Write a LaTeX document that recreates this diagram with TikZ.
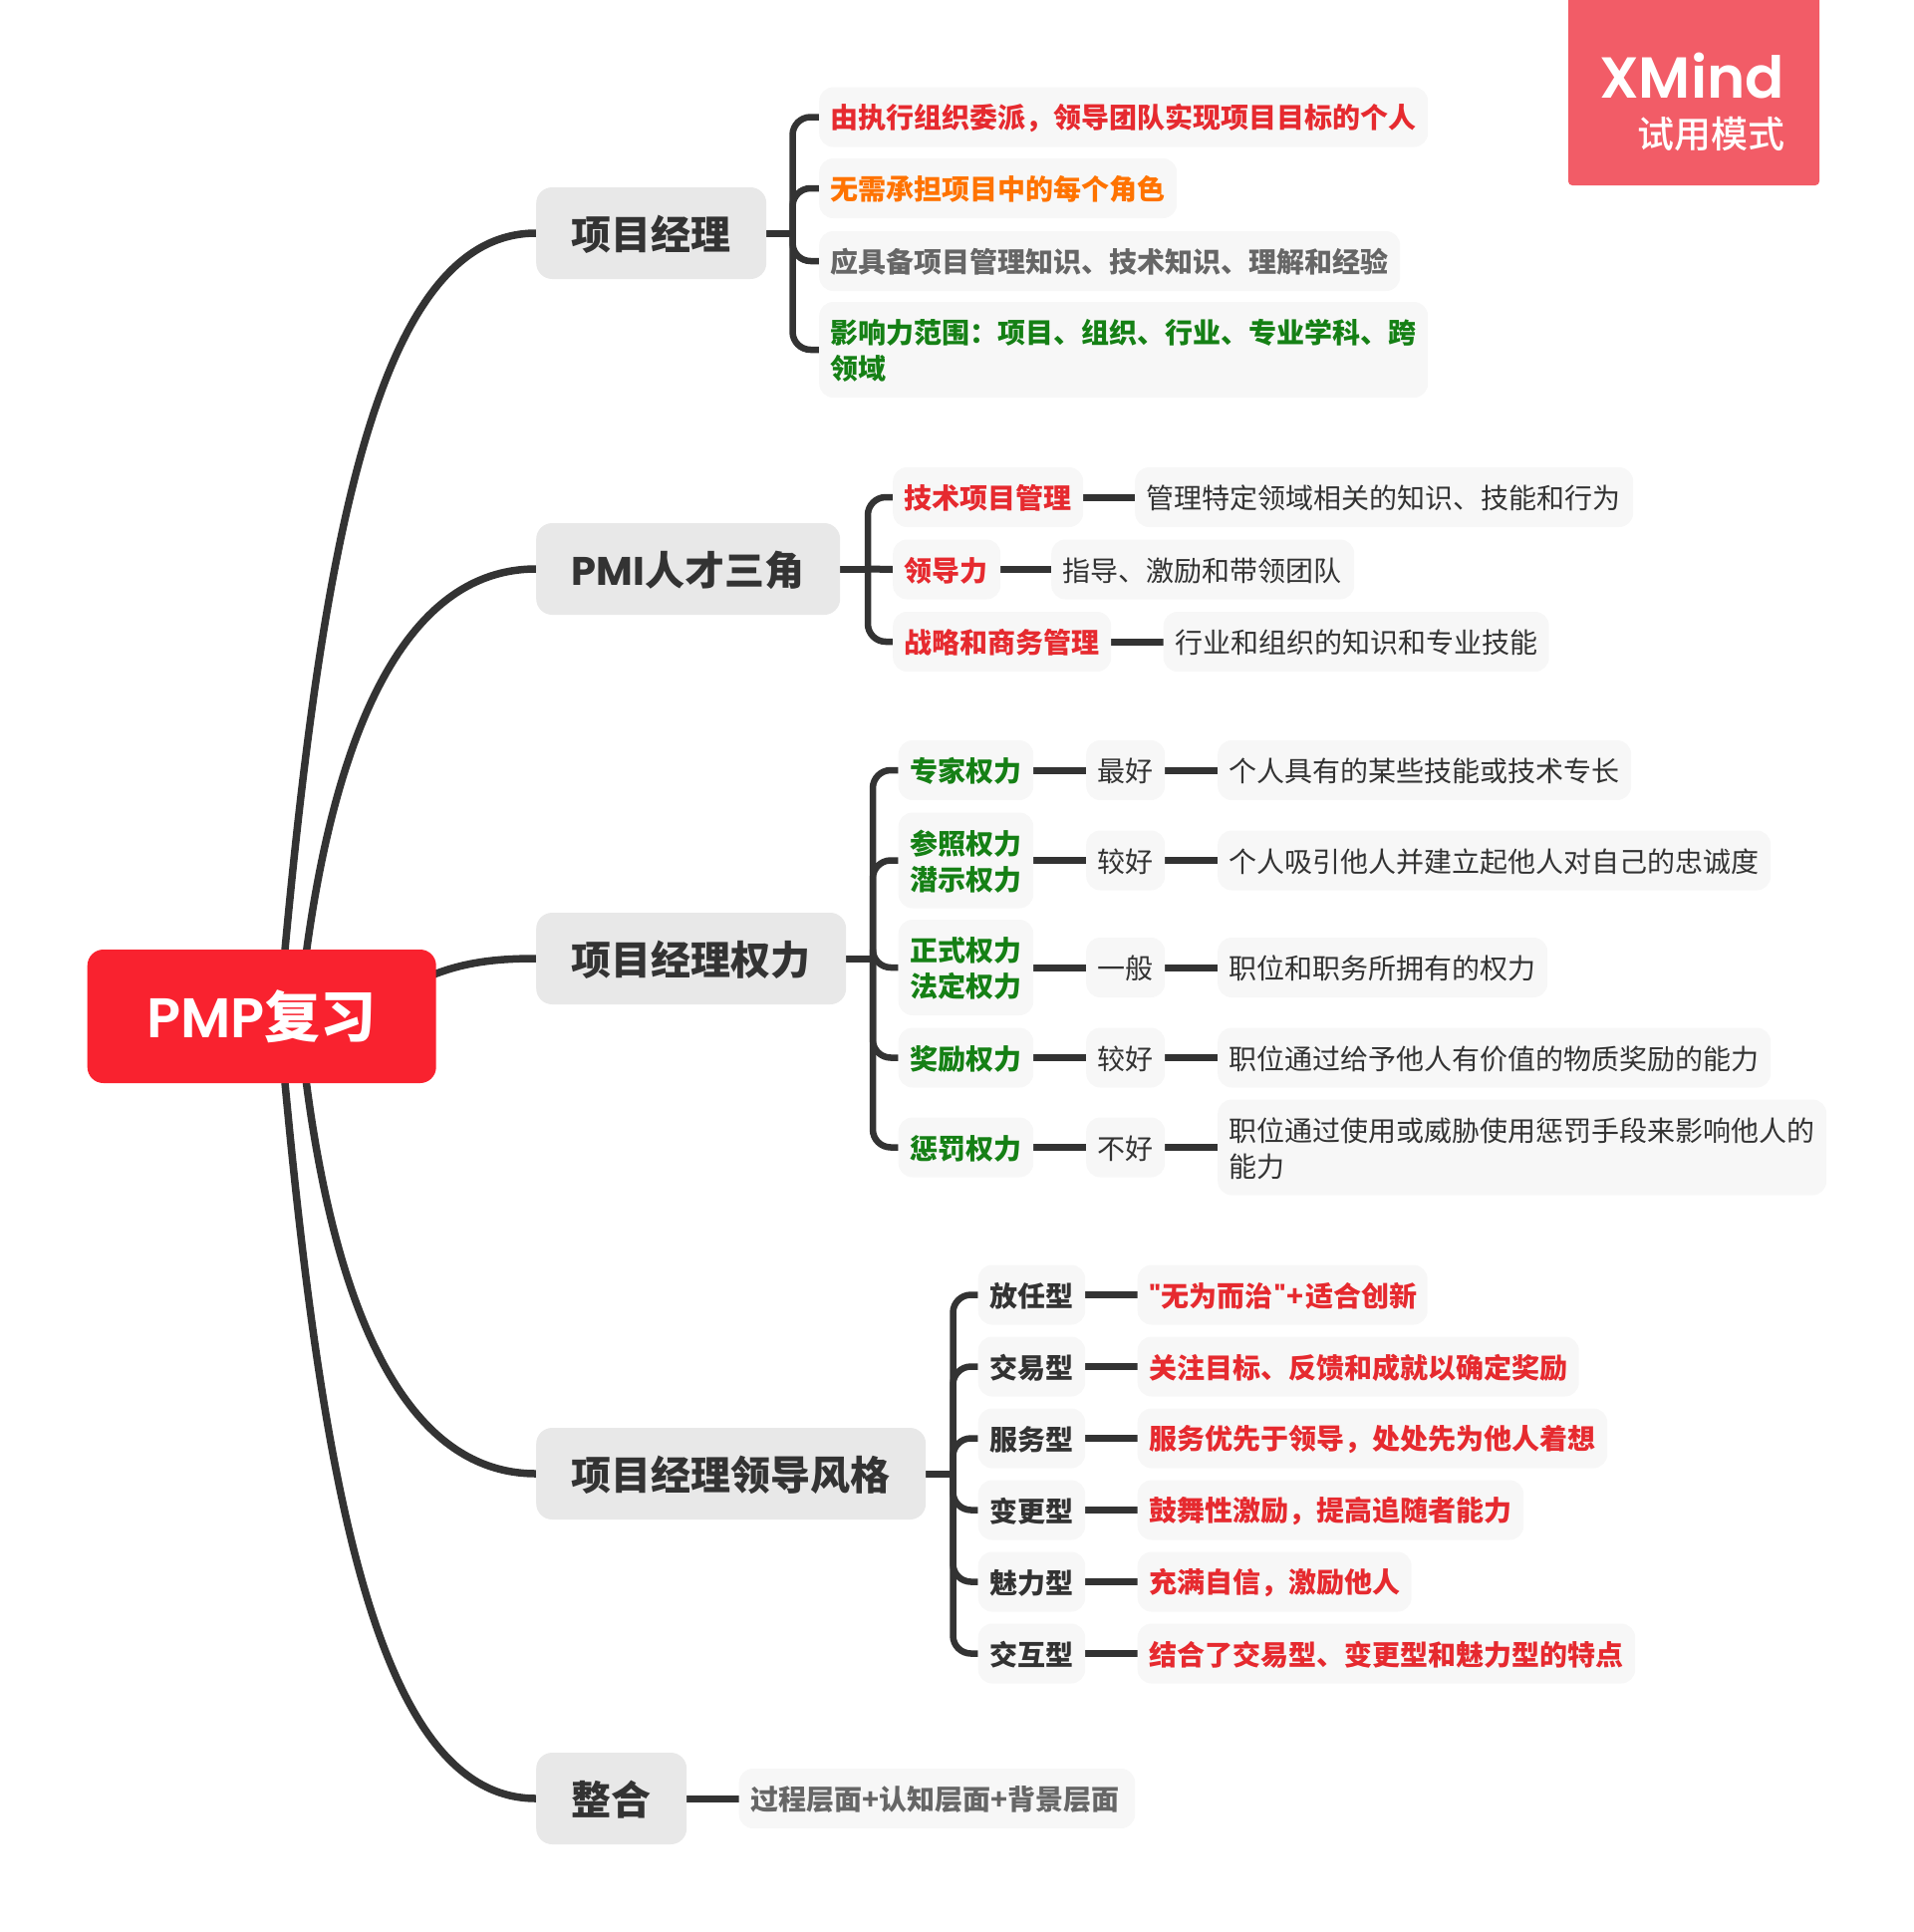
\documentclass[tikz,border=0pt]{standalone}
\usepackage{fontspec}
\setmainfont{Noto Sans CJK SC}
\newfontfamily\lat{Poppins}
\newfontfamily\lats{Poppins SemiBold}
\newfontfamily\cjkm{Noto Sans CJK SC Medium}
\usetikzlibrary{backgrounds}
\definecolor{ink}{HTML}{333333}
\definecolor{rd}{HTML}{E62A2F}
\definecolor{org}{HTML}{FF7300}
\definecolor{gry}{HTML}{666666}
\definecolor{grn}{HTML}{158015}
\definecolor{rootc}{HTML}{F9222F}
\definecolor{topicc}{HTML}{E8E8E8}
\definecolor{leafc}{HTML}{F7F7F7}
\definecolor{wmc}{HTML}{F25C67}
\newcommand\st{\vrule height \dimexpr0.88em+1.6pt\relax depth \dimexpr0.12em-1.6pt\relax width 0pt\relax}
\newcommand\sr{\vrule height \dimexpr0.88em+1.2pt\relax depth \dimexpr0.12em-1.2pt\relax width 0pt\relax}
\newcommand\fa{\fontsize{28}{36}\selectfont}
\newcommand\fb{\fontsize{40}{50}\selectfont}
\tikzset{
  leaf/.style={fill=leafc,rounded corners=14pt,inner xsep=11.6pt,inner ysep=0pt,minimum height=60pt,anchor=west,align=left,text=ink,font=\fa},
  wd/.style={text width=#1pt-23.2pt},
  redb/.style={text=rd,font=\fa\bfseries},
  orgb/.style={text=org,font=\fa\bfseries},
  gryb/.style={text=gry,font=\fa\bfseries},
  grnb/.style={text=grn,font=\fa\bfseries},
  inkb/.style={text=ink,font=\fa\bfseries},
  topic/.style={fill=topicc,rounded corners=16pt,inner xsep=35.5pt,inner ysep=0pt,minimum height=92pt,anchor=west,align=left,text=ink,font=\fb\bfseries,text width=#1pt-71pt},
  main/.style={draw=ink,line width=7.5pt},
  lnk/.style={draw=ink,line width=7pt},
  brk/.style={draw=ink,line width=6.5pt,rounded corners=18pt},
}
\begin{document}
\begin{tikzpicture}[x=1pt,y=-1pt]
\useasboundingbox (0,0) rectangle (1921,1939);
% watermark
\fill[wmc] (1574,0) [rounded corners=4pt] -- (1574,186) -- (1826,186) [sharp corners] -- (1826,0) -- cycle;
\node[anchor=base east,inner sep=0pt,text=white,font=\fontsize{58}{58}\lats\selectfont] (wm1) at (1791,98) {XMind};
\node[anchor=base east,inner sep=0pt,text=white,font=\fontsize{37}{37}\cjkm\selectfont] (wm2) at (1791.5,148) {试用模式};
% root
\node[fill=rootc,rounded corners=16pt,minimum width=350pt,minimum height=134pt,inner sep=0pt,text=white,anchor=west,font=\fontsize{56}{56}\selectfont\bfseries] (r) at (87.5,1020) {{\fontsize{56}{56}\lats\mdseries\selectfont PMP}复习};
\coordinate (s1) at (280,1020);
\coordinate (s2) at (300,1020);
% topics
\node[topic=231] (t1) at (538,234) {\sr 项目经理};
\node[topic=305] (t2) at (538,571) {\sr {\lat PMI}人才三角};
\node[topic=311] (t3) at (538,962) {\sr 项目经理权力};
\node[topic=391] (t4) at (538,1479) {\sr 项目经理领导风格};
\node[topic=151] (t5) at (538,1805) {\sr 整合};
% group 1
\node[leaf,wd=611,redb] (a1) at (822,117.5) {\st 由执行组织委派，领导团队实现项目目标的个人};
\node[leaf,wd=359,orgb] (a2) at (822,189) {\st 无需承担项目中的每个角色};
\node[leaf,wd=583,gryb] (a3) at (822,262) {\st 应具备项目管理知识、技术知识、理解和经验};
\node[leaf,wd=611,grnb,minimum height=96pt] (a4) at (822,351) {\st 影响力范围：项目、组织、行业、专业学科、跨\\\st 领域};
% group 2
\node[leaf,wd=191,redb] (b1) at (896,499) {\st 技术项目管理};
\node[leaf,wd=108,redb] (b2) at (896,571.5) {\st 领导力};
\node[leaf,wd=219,redb] (b3) at (896,644) {\st 战略和商务管理};
\node[leaf,wd=500] (bb1) at (1139,499) {\st 管理特定领域相关的知识、技能和行为};
\node[leaf,wd=304] (bb2) at (1055,571.5) {\st 指导、激励和带领团队};
\node[leaf,wd=387] (bb3) at (1167.5,644) {\st 行业和组织的知识和专业技能};
% group 3
\node[leaf,wd=135.5,grnb] (c1) at (901.5,773) {\st 专家权力};
\node[leaf,wd=135.5,grnb,minimum height=96pt] (c2) at (901.5,863.5) {\st 参照权力\\\st 潜示权力};
\node[leaf,wd=135.5,grnb,minimum height=96pt] (c3) at (901.5,971) {\st 正式权力\\\st 法定权力};
\node[leaf,wd=135.5,grnb] (c4) at (901.5,1061.5) {\st 奖励权力};
\node[leaf,wd=135.5,grnb] (c5) at (901.5,1151.5) {\st 惩罚权力};
\node[leaf,wd=79] (cc1) at (1090,773) {\st 最好};
\node[leaf,wd=79] (cc2) at (1090,863.5) {\st 较好};
\node[leaf,wd=79] (cc3) at (1090,971) {\st 一般};
\node[leaf,wd=79] (cc4) at (1090,1061.5) {\st 较好};
\node[leaf,wd=79] (cc5) at (1090,1151.5) {\st 不好};
\node[leaf,wd=415] (d1) at (1222,773) {\st 个人具有的某些技能或技术专长};
\node[leaf,wd=555] (d2) at (1222,863.5) {\st 个人吸引他人并建立起他人对自己的忠诚度};
\node[leaf,wd=331] (d3) at (1222,971) {\st 职位和职务所拥有的权力};
\node[leaf,wd=555] (d4) at (1222,1061.5) {\st 职位通过给予他人有价值的物质奖励的能力};
\node[leaf,wd=611,minimum height=96pt] (d5) at (1222,1151.5) {\st 职位通过使用或威胁使用惩罚手段来影响他人的\\\st 能力};
% group 4
\node[leaf,wd=107.5,inkb] (e1) at (981.5,1299.5) {\st 放任型};
\node[leaf,wd=107.5,inkb] (e2) at (981.5,1371.5) {\st 交易型};
\node[leaf,wd=107.5,inkb] (e3) at (981.5,1443.5) {\st 服务型};
\node[leaf,wd=107.5,inkb] (e4) at (981.5,1515.5) {\st 变更型};
\node[leaf,wd=107.5,inkb] (e5) at (981.5,1587.5) {\st 魅力型};
\node[leaf,wd=107.5,inkb] (e6) at (981.5,1659.5) {\st 交互型};
\node[leaf,wd=291,redb] (f1) at (1141.5,1299.5) {\st {\lat\char34}\kern1pt 无为而治\kern1pt{\lat\char34}\kern1.5pt+\kern2pt 适合创新};
\node[leaf,wd=443,redb] (f2) at (1141.5,1371.5) {\st 关注目标、反馈和成就以确定奖励};
\node[leaf,wd=471.5,redb] (f3) at (1141.5,1443.5) {\st 服务优先于领导，处处先为他人着想};
\node[leaf,wd=387.5,redb] (f4) at (1141.5,1515.5) {\st 鼓舞性激励，提高追随者能力};
\node[leaf,wd=275,redb] (f5) at (1141.5,1587.5) {\st 充满自信，激励他人};
\node[leaf,wd=499.5,redb] (f6) at (1141.5,1659.5) {\st 结合了交易型、变更型和魅力型的特点};
% group 5
\node[leaf,wd=397.5,gryb] (g1) at (741.5,1805) {\st 过程层面+认知层面+背景层面};
% bracket spines
\coordinate (v1) at (795.5,234);
\coordinate (v2) at (871,571);
\coordinate (v3) at (876,962);
\coordinate (v4) at (956.5,1479);
\begin{scope}[on background layer]
\draw[main] (s1) .. controls (320,560) and (375,234) .. (t1.west);
\draw[main] (s2) .. controls (325,765) and (395,571) .. (t2.west);
\draw[main] (r.center) ++(157,-35) coordinate (s3) .. controls (460,965) and (500,962) .. (t3.west);
\draw[main] (s2) .. controls (325,1285) and (395,1479) .. (t4.west);
\draw[main] (s1) .. controls (320,1479) and (375,1805) .. (t5.west);
% group 1
\draw[lnk] (t1.east) -- (v1);
\foreach \n in {a1,a2,a3,a4} \draw[brk] (v1) |- (\n.west);
% group 2
\draw[lnk] (t2.east) -- (v2);
\draw[lnk] (v2) -- (b2.west);
\draw[brk] (v2) |- (b1.west);
\draw[brk] (v2) |- (b3.west);
\draw[lnk] (b1) -- (bb1);
\draw[lnk] (b2) -- (bb2);
\draw[lnk] (b3) -- (bb3);
% group 3
\draw[lnk] (t3.east) -- (v3);
\foreach \n in {c1,c2,c3,c4,c5} \draw[brk] (v3) |- (\n.west);
\foreach \n/\m/\o in {c1/cc1/d1,c2/cc2/d2,c3/cc3/d3,c4/cc4/d4,c5/cc5/d5} {
  \draw[lnk] (\n) -- (\m);
  \draw[lnk] (\m) -- (\o);
}
% group 4
\draw[lnk] (t4.east) -- (v4);
\foreach \n in {e1,e2,e3,e4,e5,e6} \draw[brk] (v4) |- (\n.west);
\foreach \n/\m in {e1/f1,e2/f2,e3/f3,e4/f4,e5/f5,e6/f6} \draw[lnk] (\n) -- (\m);
% group 5
\draw[lnk] (t5) -- (g1);
\end{scope}
\end{tikzpicture}
\end{document}
